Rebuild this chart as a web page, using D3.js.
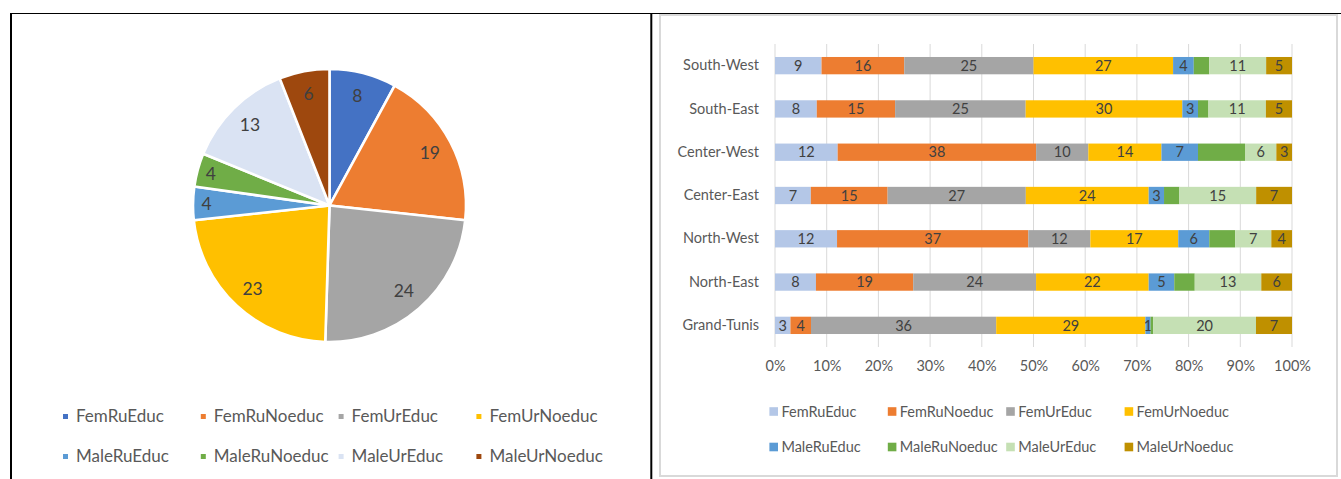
<!DOCTYPE html>
<html>
<head>
<meta charset="utf-8">
<script src="https://cdn.jsdelivr.net/npm/d3@7"></script>
<style>
  body { margin: 0; background: #fff; }
  svg text { font-family: Lato, "Noto Sans", sans-serif; }
</style>
</head>
<body>
<svg id="chart" width="1341" height="479"></svg>
<script>
// ---- data ----
var groups = ['FemRuEduc', 'FemRuNoeduc', 'FemUrEduc', 'FemUrNoeduc',
              'MaleRuEduc', 'MaleRuNoeduc', 'MaleUrEduc', 'MaleUrNoeduc'];

// pie: national shares
var pieValues = [8, 19, 24, 23, 4, 4, 13, 6];
var pieColors = ['#4472C4', '#ED7D31', '#A5A5A5', '#FFC000',
                 '#5B9BD5', '#70AD47', '#DAE3F3', '#9E480E'];

// bars: shares by region (top to bottom)
var regions = ['South-West', 'South-East', 'Center-West', 'Center-East',
               'North-West', 'North-East', 'Grand-Tunis'];
var femRuEduc    = [9, 8, 12, 7, 12, 8, 3];
var femRuNoeduc  = [16, 15, 38, 15, 37, 19, 4];
var femUrEduc    = [25, 25, 10, 27, 12, 24, 36];
var femUrNoeduc  = [27, 30, 14, 24, 17, 22, 29];
var maleRuEduc   = [4, 3, 7, 3, 6, 5, 1];
var maleRuNoeduc = [3, 2, 9, 3, 5, 4, 0.5];   // unlabelled in source, read from widths
var maleUrEduc   = [11, 11, 6, 15, 7, 13, 20];
var maleUrNoeduc = [5, 5, 3, 7, 4, 6, 7];
var barColors = ['#B4C7E7', '#ED7D31', '#A5A5A5', '#FFC000',
                 '#5B9BD5', '#70AD47', '#C5E0B4', '#BF9000'];
var xTicks = [0, 0.1, 0.2, 0.3, 0.4, 0.5, 0.6, 0.7, 0.8, 0.9, 1];

var svg = d3.select('#chart');

// ---- frame (table borders) ----
svg.append('line').attr('x1', 10).attr('x2', 1341).attr('y1', 13.5).attr('y2', 13.5)
  .attr('stroke', '#000').attr('stroke-width', 1.2);
svg.append('line').attr('x1', 11).attr('x2', 11).attr('y1', 13).attr('y2', 479)
  .attr('stroke', '#000').attr('stroke-width', 2);
svg.append('line').attr('x1', 651.3).attr('x2', 651.3).attr('y1', 13).attr('y2', 479)
  .attr('stroke', '#000').attr('stroke-width', 2);
svg.append('rect').attr('x', 660).attr('y', 15).attr('width', 677).attr('height', 461)
  .attr('fill', 'none').attr('stroke', '#d9d9d9').attr('stroke-width', 2);

// ---- pie ----
var R = 136.5, cx = 329.5, cy = 205.5;
var pie = d3.pie().sort(null);
var arcs = pie(pieValues);
var arc = d3.arc().innerRadius(0).outerRadius(R);
var pg = svg.append('g').attr('transform', 'translate(' + cx + ',' + cy + ')');

pg.selectAll('path.slice')
  .data(arcs)
  .enter()
  .append('path')
  .attr('class', 'slice')
  .attr('d', arc)
  .attr('fill', function(d, i) {return pieColors[i];})
  .attr('stroke', '#fff')
  .attr('stroke-width', 2.6)
  .attr('stroke-linejoin', 'round');

pg.selectAll('text.plabel')
  .data(arcs)
  .enter()
  .append('text')
  .attr('class', 'plabel')
  .attr('transform', function(d) {
    var lr = d.value < 5 ? R * 0.9 : R * 0.83;
    var c = d3.arc().innerRadius(lr).outerRadius(lr).centroid(d);
    return 'translate(' + c[0] + ',' + c[1] + ')';
  })
  .attr('text-anchor', 'middle')
  .attr('dy', '0.35em')
  .attr('font-size', '17.5px')
  .attr('fill', '#404040')
  .text(function(d) {return d.value;});

// pie legend
var pleg = svg.append('g').selectAll('g')
  .data(groups)
  .enter()
  .append('g')
  .attr('transform', function(d, i) {
    return 'translate(' + (63 + (i % 4) * 137.8) + ',' + (i < 4 ? 416.5 : 456.5) + ')';
  });
pleg.append('rect').attr('x', 0).attr('y', -2.5).attr('width', 5).attr('height', 5)
  .attr('fill', function(d, i) {return pieColors[i];});
pleg.append('text').attr('x', 13).attr('dy', '0.35em')
  .attr('font-size', '17px').attr('fill', '#595959')
  .text(function(d) {return d;});

// ---- 100% stacked bars ----
var rows = regions.map(function(r, i) {
  return {region: r,
    FemRuEduc: femRuEduc[i], FemRuNoeduc: femRuNoeduc[i],
    FemUrEduc: femUrEduc[i], FemUrNoeduc: femUrNoeduc[i],
    MaleRuEduc: maleRuEduc[i], MaleRuNoeduc: maleRuNoeduc[i],
    MaleUrEduc: maleUrEduc[i], MaleUrNoeduc: maleUrNoeduc[i]};
});
var stack = d3.stack().keys(groups).offset(d3.stackOffsetExpand);
var layers = stack(rows);

var xScale = d3.scaleLinear().domain([0, 1]).range([775, 1292]);
var yScale = d3.scaleBand().domain(regions).range([44, 347])
  .paddingInner(0.6).paddingOuter(0.3);

// gridlines
svg.append('g').selectAll('line')
  .data(xTicks)
  .enter()
  .append('line')
  .attr('x1', function(d) {return xScale(d);})
  .attr('x2', function(d) {return xScale(d);})
  .attr('y1', 44).attr('y2', 347)
  .attr('stroke', '#d9d9d9').attr('stroke-width', 1);

var bg = svg.append('g');
var layer = bg.selectAll('g.layer')
  .data(layers)
  .enter()
  .append('g')
  .attr('class', 'layer')
  .attr('fill', function(d, i) {return barColors[i];});

layer.selectAll('rect')
  .data(function(d) {return d;})
  .enter()
  .append('rect')
  .attr('x', function(d) {return xScale(d[0]);})
  .attr('width', function(d) {return xScale(d[1]) - xScale(d[0]);})
  .attr('y', function(d) {return yScale(d.data.region);})
  .attr('height', yScale.bandwidth());

// data labels (the MaleRuNoeduc series carries none)
layer.filter(function(d) {return d.key !== 'MaleRuNoeduc';})
  .selectAll('text')
  .data(function(d) {return d.map(function(p) {return {p: p, key: d.key};});})
  .enter()
  .append('text')
  .attr('x', function(d) {return (xScale(d.p[0]) + xScale(d.p[1])) / 2;})
  .attr('y', function(d) {return yScale(d.p.data.region) + yScale.bandwidth() / 2;})
  .attr('dy', '0.36em')
  .attr('text-anchor', 'middle')
  .attr('font-size', '14.5px')
  .attr('fill', '#404040')
  .text(function(d) {return d.p.data[d.key];});

// axes
var xAxis = d3.axisBottom(xScale).tickValues(xTicks).tickSize(0).tickPadding(14)
  .tickFormat(d3.format('.0%'));
var gx = svg.append('g').attr('transform', 'translate(0,347)').call(xAxis);
gx.select('.domain').remove();
gx.selectAll('text').attr('font-size', '14.5px').attr('fill', '#595959')
  .style('font-family', 'Lato, sans-serif');

var yAxis = d3.axisLeft(yScale).tickSize(0).tickPadding(16);
var gy = svg.append('g').attr('transform', 'translate(775,0)').call(yAxis);
gy.select('.domain').remove();
gy.selectAll('text').attr('font-size', '14.5px').attr('fill', '#595959')
  .style('font-family', 'Lato, sans-serif');

// bar legend
var bleg = svg.append('g').selectAll('g')
  .data(groups)
  .enter()
  .append('g')
  .attr('transform', function(d, i) {
    return 'translate(' + (769.4 + (i % 4) * 118.4) + ',' + (i < 4 ? 411.5 : 447) + ')';
  });
bleg.append('rect').attr('x', 0).attr('y', -4.3).attr('width', 8.6).attr('height', 8.6)
  .attr('fill', function(d, i) {return barColors[i];});
bleg.append('text').attr('x', 12).attr('dy', '0.35em')
  .attr('font-size', '14.5px').attr('fill', '#595959')
  .text(function(d) {return d;});
</script>
</body>
</html>
